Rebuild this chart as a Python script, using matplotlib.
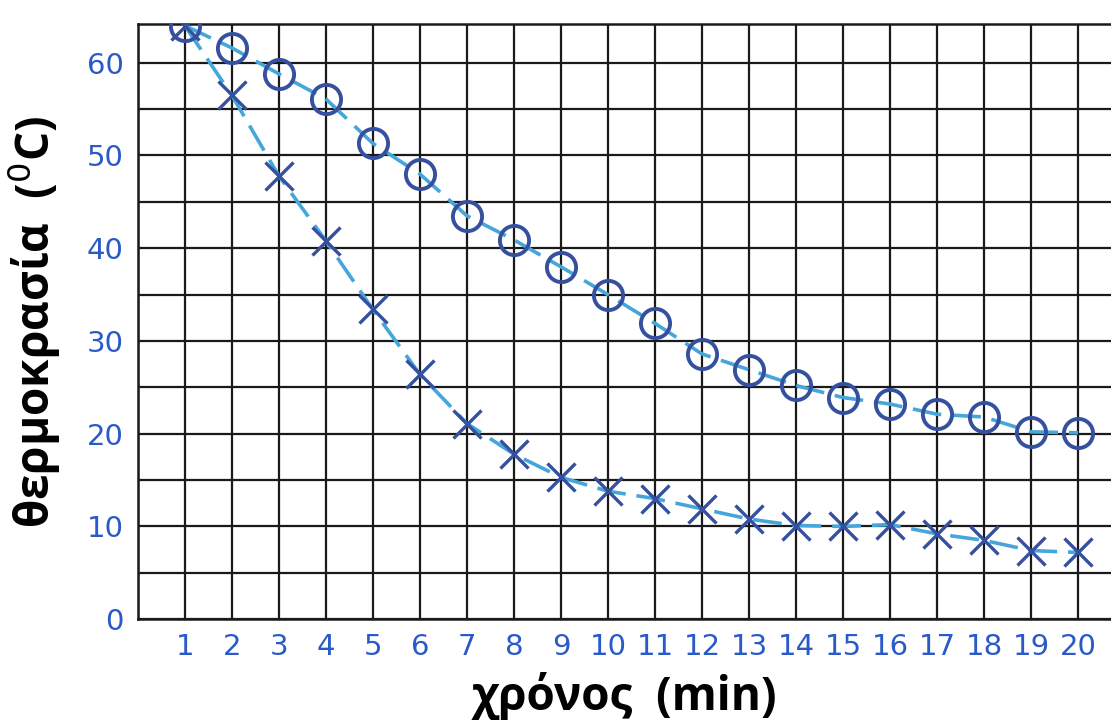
import matplotlib.pyplot as plt
import numpy as np

# time in minutes and the two cooling curves
time_min = [1, 2, 3, 4, 5, 6, 7, 8, 9, 10, 11, 12, 13, 14, 15, 16, 17, 18, 19, 20]
temp_circle = [64, 61.6, 58.8, 56.1, 51.3, 48.0, 43.5, 40.9, 38.0, 35.0, 31.9,
               28.6, 26.9, 25.2, 23.9, 23.2, 22.1, 21.8, 20.2, 20.1]
temp_cross = [64, 56.5, 47.8, 40.8, 33.4, 26.4, 21.1, 17.8, 15.3, 13.8, 13.0,
              11.9, 10.8, 10.1, 10.0, 10.2, 9.2, 8.5, 7.4, 7.2]
y_ticks = [0, 10, 20, 30, 40, 50, 60]

line_col = '#45a6dc'
mark_col = '#34509e'
tick_col = '#2a5ac8'

fig = plt.figure(figsize=(11.11, 7.2), dpi=100)
ax = fig.add_axes([0.124, 0.140, 0.876, 0.827])

ax.set_xlim(0, 20.7)
ax.set_ylim(0, 64.2)

# grid paper
for gx in range(0, 21):
    ax.axvline(gx, color='#1a1a1a', lw=1.6, zorder=1)
for gy in range(0, 65, 5):
    ax.axhline(gy, color='#1a1a1a', lw=1.6, zorder=1)

ax.plot(time_min, temp_circle, color=line_col, lw=2.6, dashes=(8, 3), zorder=2)
ax.plot(time_min, temp_cross, color=line_col, lw=2.6, dashes=(8, 3), zorder=2)
ax.plot(time_min, temp_circle, 'o', ms=21, mfc='none', mec=mark_col, mew=2.8, zorder=3)
ax.plot(time_min, temp_cross, 'x', ms=20, mec=mark_col, mew=2.4, zorder=3)

ax.spines['right'].set_visible(False)
for s in ['left', 'bottom', 'top']:
    ax.spines[s].set_linewidth(1.8)
    ax.spines[s].set_color('#1a1a1a')

ax.set_xticks(time_min)
ax.set_yticks(y_ticks)
ax.tick_params(length=0, labelsize=21, labelcolor=tick_col, pad=10)

ax.set_xlabel('χρόνος  (min)', fontsize=33, fontweight='bold', family='Open Sans', labelpad=8)
ax.set_ylabel('θερμοκρασία  ($^{0}$C)', fontsize=33, fontweight='bold', family='Open Sans', labelpad=18)

plt.savefig('out.png', dpi=100)
